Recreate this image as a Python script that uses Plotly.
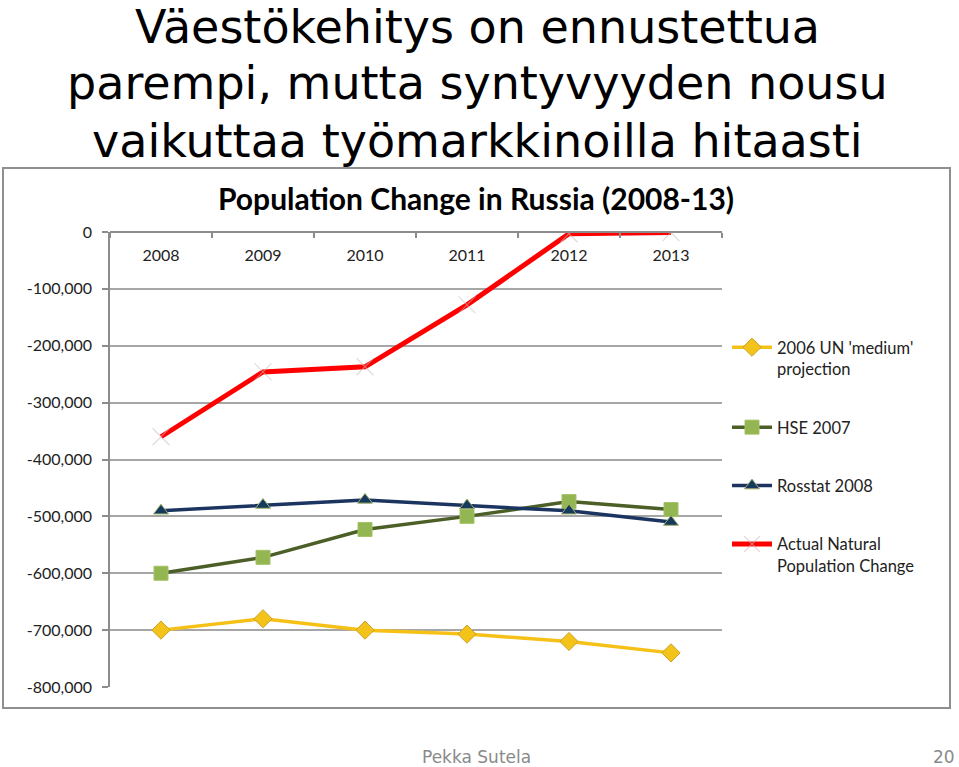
import plotly.graph_objects as go

W, H = 959, 767

years = ["2008", "2009", "2010", "2011", "2012", "2013"]
un_2006 = [-700000, -680000, -700000, -707000, -720000, -740000]
hse_2007 = [-600000, -572000, -523000, -500000, -474000, -488000]
rosstat_2008 = [-490000, -480000, -471000, -481000, -490000, -510000]
actual = [-360000, -246000, -237000, -128000, -3000, -1000]

series_names = ["2006 UN 'medium'<br>projection", "HSE 2007", "Rosstat 2008",
                "Actual Natural<br>Population Change"]

y_tick_vals = [0, -100000, -200000, -300000, -400000, -500000, -600000, -700000, -800000]
y_tick_text = ["0", "-100,000", "-200,000", "-300,000", "-400,000", "-500,000",
               "-600,000", "-700,000", "-800,000"]

title_lines = ["Väestökehitys on ennustettua",
               "parempi, mutta syntyvyyden nousu",
               "vaikuttaa työmarkkinoilla hitaasti"]
chart_title = "Population Change in Russia (2008-13)"
footer_left = "Pekka Sutela"
footer_right = "20"

def px_x(p):
    return p / W

def px_y(p):
    return 1 - p / H

CHART_FONT = "Lato, Open Sans, sans-serif"
GREY = "#8c8c8c"

fig = go.Figure()

fig.add_trace(go.Scatter(
    x=years, y=un_2006, name=series_names[0], mode="lines+markers",
    line=dict(color="#f6c117", width=3.5),
    marker=dict(symbol="diamond", size=14, color="#f3c31a",
                line=dict(color="#c9a22a", width=1)),
    legendgroup="a"))
fig.add_trace(go.Scatter(
    x=years, y=hse_2007, name=series_names[1], mode="lines+markers",
    line=dict(color="#4b5f27", width=3.5),
    marker=dict(symbol="square", size=14, color="#93b552",
                line=dict(color="#a5c266", width=1)),
    legendgroup="b"))
fig.add_trace(go.Scatter(
    x=years, y=rosstat_2008, name=series_names[2], mode="lines+markers",
    line=dict(color="#1b3560", width=3.5),
    marker=dict(symbol="triangle-up", size=13, color="#163a5e",
                line=dict(color="#9fb06a", width=1)),
    legendgroup="c"))
fig.add_trace(go.Scatter(
    x=years, y=actual, name=series_names[3], mode="lines+markers",
    line=dict(color="#ff0000", width=5),
    marker=dict(symbol="x-thin-open", size=17, color="rgba(205,185,185,0.55)",
                line=dict(width=1.2)),
    legendgroup="d"))

fig.update_layout(
    width=W, height=H,
    margin=dict(l=0, r=0, t=0, b=0, pad=0, autoexpand=False),
    paper_bgcolor="white", plot_bgcolor="white",
    showlegend=True,
    legend=dict(
        x=px_x(727), y=px_y(330), xanchor="left", yanchor="top",
        font=dict(family=CHART_FONT, size=16.5, color="#222"),
        traceorder="grouped", tracegroupgap=34, itemwidth=40,
        valign="top", bgcolor="rgba(0,0,0,0)"),
    xaxis=dict(
        domain=[px_x(110), px_x(722)],
        type="category", categoryorder="array", categoryarray=years,
        range=[-0.5, 5.5],
        side="bottom", anchor="free", position=px_y(232),
        ticks="outside", tickson="boundaries", ticklen=5, tickcolor=GREY, tickwidth=1.5,
        showline=True, linecolor=GREY, linewidth=1.5,
        showgrid=False, zeroline=False,
        tickfont=dict(family=CHART_FONT, size=16, color="#222"),
        ticklabelstandoff=9,
        automargin=False,
    ),
    yaxis=dict(
        domain=[px_y(687), px_y(232)],
        range=[-800000, 0],
        tickvals=y_tick_vals, ticktext=y_tick_text,
        ticks="outside", ticklen=6, tickcolor=GREY, tickwidth=1.5,
        showline=True, linecolor=GREY, linewidth=1.5,
        showgrid=True, gridcolor="#a6a6a6", gridwidth=1.5,
        zeroline=False,
        tickfont=dict(family=CHART_FONT, size=16, color="#222"),
        ticklabelstandoff=7,
        automargin=False,
    ),
)

# Chart frame
fig.add_shape(type="rect", xref="paper", yref="paper",
              x0=px_x(3), x1=px_x(950), y0=px_y(708), y1=px_y(168),
              line=dict(color="#8f8f8f", width=2), fillcolor="rgba(0,0,0,0)", layer="below")

# Slide title
title_mid_y = [27, 83, 141]
for line, yy in zip(title_lines, title_mid_y):
    fig.add_annotation(text=line, xref="paper", yref="paper",
                       x=px_x(477), y=px_y(yy), xanchor="center", yanchor="middle",
                       showarrow=False, borderpad=0,
                       font=dict(family="DejaVu Sans, Verdana, sans-serif", size=46, color="black"))

# Chart title
fig.add_annotation(text="<b>" + chart_title + "</b>", xref="paper", yref="paper",
                   x=px_x(476), y=px_y(198), xanchor="center", yanchor="middle",
                   showarrow=False,
                   font=dict(family=CHART_FONT, size=30, color="black"))

# Footer
fig.add_annotation(text=footer_left, xref="paper", yref="paper",
                   x=px_x(476), y=px_y(757), xanchor="center", yanchor="middle",
                   showarrow=False,
                   font=dict(family="DejaVu Sans, Verdana, sans-serif", size=17, color="#8a8a8a"))
fig.add_annotation(text=footer_right, xref="paper", yref="paper",
                   x=px_x(957), y=px_y(757), xanchor="right", yanchor="middle",
                   showarrow=False,
                   font=dict(family="DejaVu Sans, Verdana, sans-serif", size=17, color="#8a8a8a"))

fig.write_html("out.html")
